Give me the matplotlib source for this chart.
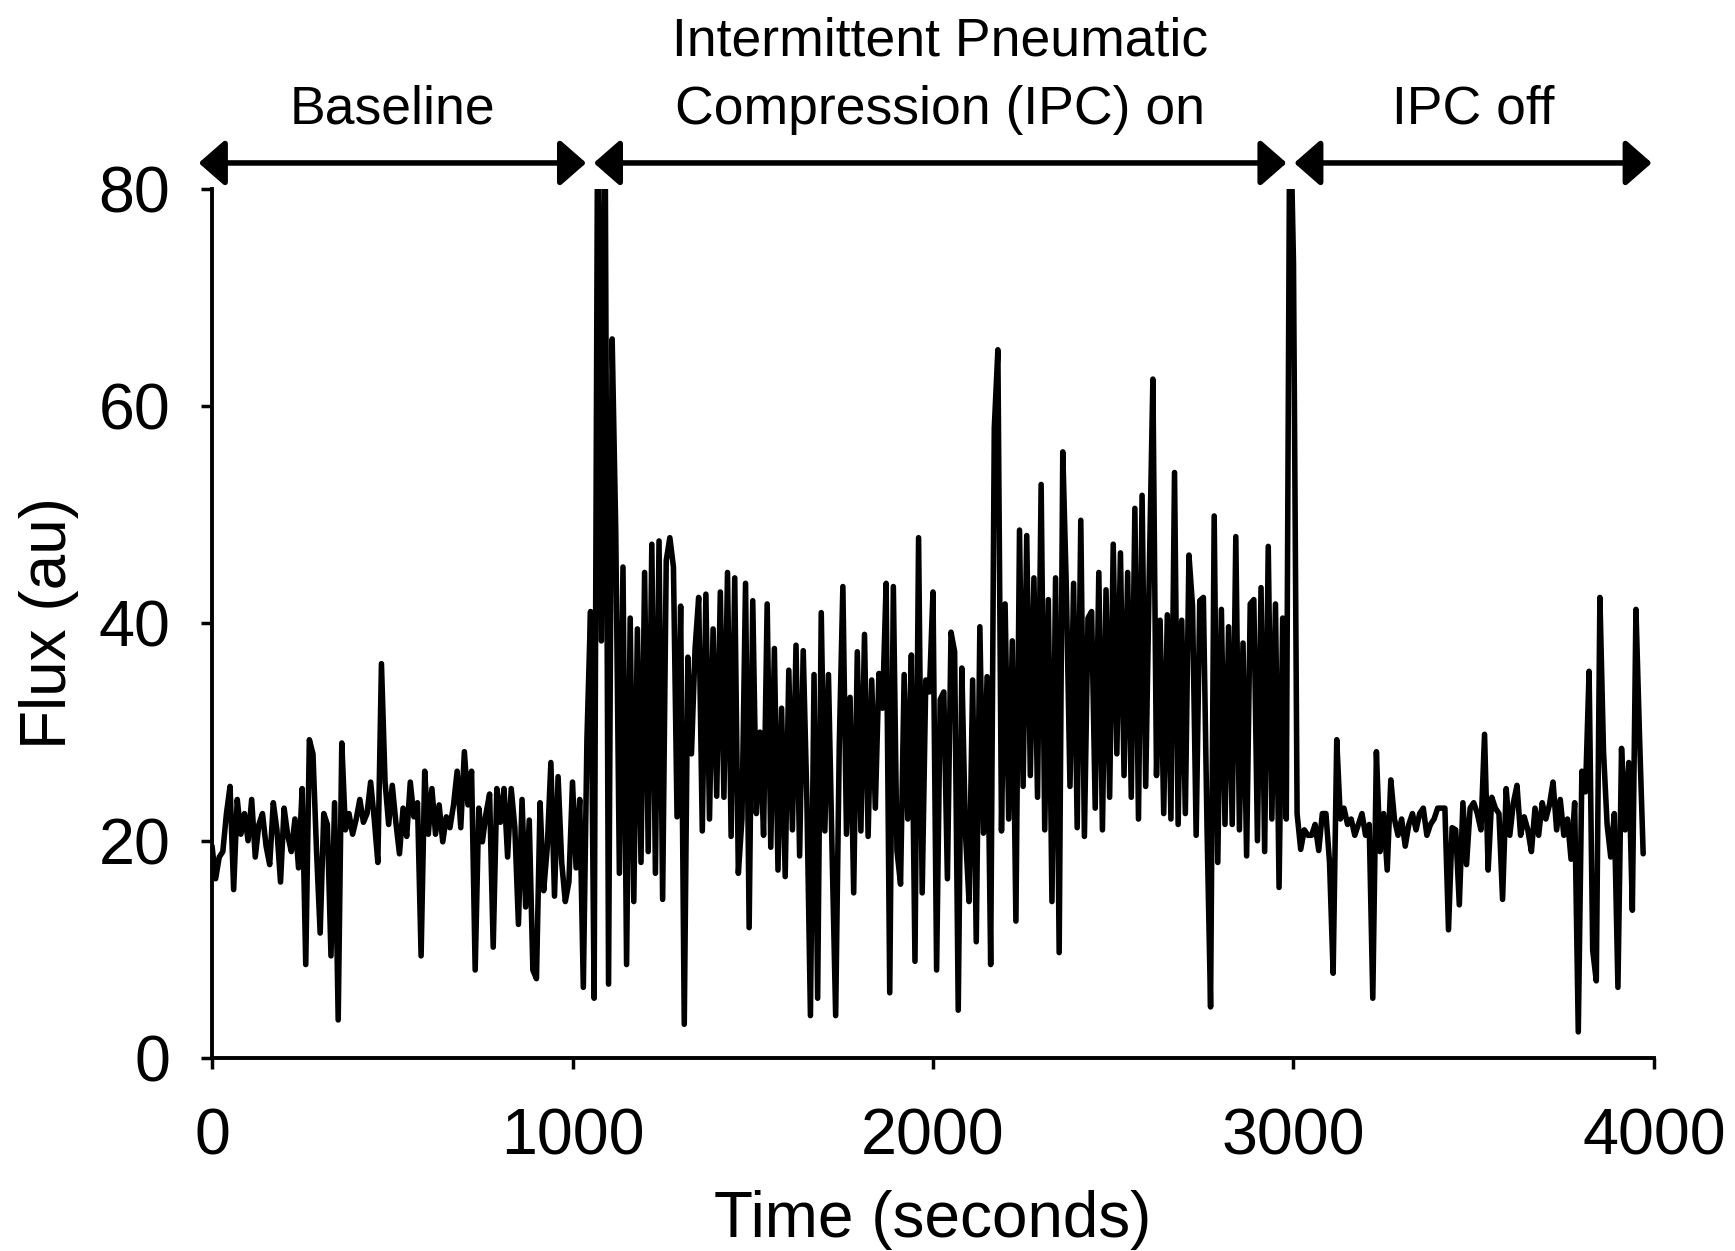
import numpy as np
import matplotlib
matplotlib.use('Agg')
import matplotlib.pyplot as plt

plt.rcParams['font.family'] = ['Liberation Sans', 'DejaVu Sans']

# one flux reading every 10 seconds
sample_step = 10

baseline_flux = [
    19.5, 16.5, 18.5, 19.0, 22.5, 25.0, 15.5, 23.8, 20.6, 22.5,
    20.0, 23.8, 18.5, 21.5, 22.5, 19.5, 17.8, 23.5, 21.0, 16.2,
    23.0, 20.5, 19.0, 22.0, 17.5, 24.8, 8.6, 29.3, 28.0, 19.0,
    11.5, 22.5, 21.5, 9.4, 23.5, 3.5, 29.0, 21.0, 22.5, 20.6,
    22.0, 23.8, 21.7, 22.5, 25.4, 22.0, 18.0, 36.3, 25.4, 21.5,
    25.1, 21.7, 18.8, 23.0, 20.4, 25.4, 22.2, 23.5, 9.4, 26.4,
    20.6, 24.8, 20.6, 23.3, 19.9, 22.2, 21.2, 23.3, 26.4, 21.2,
    28.2, 23.3, 26.4, 8.1, 23.0, 19.9, 22.5, 24.3, 10.2, 24.8,
    21.7, 24.8, 18.5, 24.8, 21.2, 12.3, 23.8, 13.9, 21.9, 8.1,
    7.3, 23.5, 15.4, 19.4, 27.2, 14.9, 25.9, 18.0, 14.4, 16.2,
]

ipc_on_flux = [
    25.4, 17.5, 23.8, 6.5, 29.3, 41.1, 5.5, 90.0, 38.4, 90.0,
    6.8, 66.2, 48.4, 17.0, 45.2, 8.6, 40.5, 14.4, 39.5, 18.0,
    44.7, 19.0, 47.3, 17.0, 47.6, 14.6, 45.8, 47.9, 45.2, 22.2,
    41.6, 3.1, 36.9, 28.0, 37.7, 42.4, 20.9, 42.7, 22.0, 39.5,
    24.1, 42.9, 24.0, 44.7, 20.4, 44.2, 17.0, 22.0, 43.7, 12.0,
    42.1, 22.5, 30.0, 20.5, 41.8, 19.4, 37.7, 17.3, 32.2, 16.7,
    35.7, 21.0, 38.0, 18.6, 37.5, 24.0, 3.9, 35.3, 5.5, 41.0,
    20.9, 35.3, 19.1, 3.9, 28.8, 43.4, 20.6, 33.2, 15.2, 37.4,
    20.9, 39.0, 20.4, 34.8, 23.0, 35.4, 32.2, 43.7, 6.0, 43.4,
    19.1, 16.0, 35.3, 22.0, 37.1, 8.9, 47.9, 15.2, 34.8, 33.7,
    42.9, 8.1, 33.0, 33.7, 16.5, 39.2, 37.4, 4.4, 35.9, 20.7,
    14.4, 34.8, 10.7, 39.7, 20.7, 35.1, 8.6, 58.0, 65.2, 20.9,
    41.8, 22.0, 38.4, 12.6, 48.6, 25.0, 48.1, 26.0, 44.2, 24.0,
    52.8, 21.0, 42.2, 14.4, 44.2, 9.7, 55.8, 43.1, 25.0, 43.7,
    21.2, 49.5, 20.4, 40.5, 41.1, 23.0, 44.7, 21.0, 43.1, 24.0,
    47.3, 28.0, 46.5, 26.0, 44.7, 24.0, 50.6, 22.0, 51.8, 25.0,
    44.7, 62.5, 26.0, 40.3, 22.5, 40.8, 22.0, 53.9, 21.5, 40.3,
    22.5, 46.3, 41.6, 20.5, 42.1, 42.4, 21.5, 4.7, 49.9, 18.0,
    41.3, 21.5, 39.7, 21.5, 48.0, 21.0, 38.2, 18.6, 41.8, 42.2,
    20.0, 43.3, 19.0, 47.1, 22.0, 41.8, 15.7, 40.5, 22.0, 90.0,
]

ipc_off_flux = [
    73.2, 22.5, 19.2, 21.0, 20.5, 20.5, 21.5, 19.1, 22.5, 22.5,
    18.0, 7.8, 29.3, 22.0, 23.0, 21.5, 22.0, 20.5, 21.5, 22.5,
    20.5, 21.5, 5.5, 28.2, 19.0, 22.5, 17.3, 25.6, 22.0, 20.5,
    22.0, 19.5, 21.5, 22.5, 21.0, 22.5, 23.0, 20.5, 21.5, 22.0,
    23.0, 23.0, 23.0, 11.8, 21.2, 21.0, 14.1, 23.5, 17.8, 23.0,
    23.5, 22.5, 21.0, 29.8, 17.3, 24.0, 23.0, 22.5, 14.6, 24.8,
    20.5, 23.5, 25.1, 20.5, 22.2, 21.0, 19.0, 23.0, 20.5, 23.5,
    22.0, 23.3, 25.4, 21.0, 23.8, 20.5, 22.0, 18.3, 23.5, 2.4,
    26.4, 24.5, 35.6, 9.9, 7.1, 42.4, 28.2, 21.5, 18.5, 22.5,
    6.5, 28.5, 21.0, 27.2, 13.6, 41.3, 29.5, 18.8,
]

phase_labels = ['Baseline', 'Intermittent Pneumatic\nCompression (IPC) on', 'IPC off']
phase_starts = [-37, 1059, 3002]
phase_ends = [1038, 2981, 3994]

flux = np.array(baseline_flux + ipc_on_flux + ipc_off_flux)
time = np.arange(len(flux)) * sample_step

fig = plt.figure(figsize=(17.35, 12.51), dpi=100)
ax = fig.add_axes([0.1222, 0.1543, 0.8311, 0.6946])

ax.plot(time, flux, color='black', linewidth=4.0, solid_joinstyle='round',
        solid_capstyle='round')

ax.set_xlim(0, 4000)
ax.set_ylim(0, 80)
ax.set_xticks([0, 1000, 2000, 3000, 4000])
ax.set_yticks([0, 20, 40, 60, 80])

for side in ['top', 'right']:
    ax.spines[side].set_visible(False)
for side in ['left', 'bottom']:
    ax.spines[side].set_linewidth(2.8)

ax.tick_params(axis='both', direction='out', length=8, width=2.5, labelsize=46.5)
ax.tick_params(axis='x', pad=28)
ax.tick_params(axis='y', pad=22)

ax.set_xlabel('Time (seconds)', fontsize=46, labelpad=16)
ax.set_ylabel('Flux (au)', fontsize=46, labelpad=14)

# phase arrows and labels above the plot
arrow_y = 82.4
for label, start, end in zip(phase_labels, phase_starts, phase_ends):
    ax.annotate('', xy=(end, arrow_y), xytext=(start, arrow_y),
                xycoords='data', annotation_clip=False,
                arrowprops=dict(arrowstyle='<|-|>,head_length=0.8,head_width=0.7',
                                mutation_scale=20, color='black', linewidth=4.0,
                                shrinkA=0, shrinkB=0))
    ax.text((start + end) / 2, 86.0, label, ha='center', va='baseline',
            fontsize=38.5, linespacing=1.47, clip_on=False)

fig.savefig('out.png', dpi=100)
